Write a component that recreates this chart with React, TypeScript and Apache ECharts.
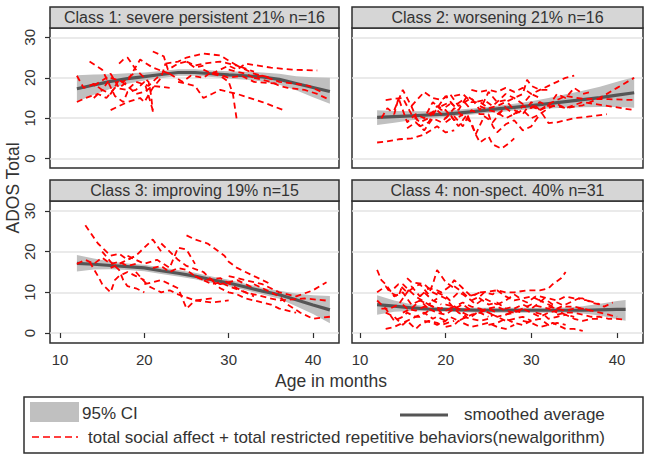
import React, { useEffect, useRef } from "react";
import * as echarts from "echarts";

// ---------- titles ----------
const panelTitles = [
  "Class 1: severe persistent 21% n=16",
  "Class 2: worsening 21% n=16",
  "Class 3: improving 19% n=15",
  "Class 4: non-spect. 40% n=31",
];
const yTicks = [0, 10, 20, 30];
const xTicks = [10, 20, 30, 40];

// ---------- smoothed average + 95% CI ----------
const ages1 = [12, 14, 16, 18, 20, 22, 24, 26, 28, 30, 32, 34, 36, 38, 40, 42];
const smooth1 = [17.3, 18.2, 19.1, 19.8, 20.3, 20.8, 21.3, 21.3, 21.0, 20.7, 20.5, 20.2, 19.6, 18.6, 17.6, 16.6];
const lower1 = [14.1, 15.8, 17.3, 18.5, 19.3, 19.9, 20.5, 20.5, 20.2, 19.8, 19.5, 19.1, 18.3, 16.9, 15.2, 13.6];
const upper1 = [20.6, 20.8, 20.9, 21.1, 21.3, 21.7, 22.1, 22.1, 21.8, 21.6, 21.5, 21.3, 21.0, 20.4, 20.1, 20.0];

const ages2 = [12, 14, 16, 18, 20, 22, 24, 26, 28, 30, 32, 34, 36, 38, 40, 42];
const smooth2 = [10.2, 10.4, 10.6, 10.8, 11.0, 11.4, 11.8, 12.3, 12.7, 13.1, 13.6, 14.1, 14.6, 15.1, 15.7, 16.3];
const lower2 = [8.3, 8.9, 9.5, 9.9, 10.3, 10.7, 11.1, 11.5, 11.9, 12.2, 12.4, 12.6, 12.7, 12.8, 12.8, 12.6];
const upper2 = [12.0, 11.8, 11.7, 11.7, 11.8, 12.2, 12.6, 13.1, 13.6, 14.2, 15.0, 15.9, 16.8, 17.8, 19.0, 20.2];

const ages3 = [12, 14, 16, 18, 20, 22, 24, 26, 28, 30, 32, 34, 36, 38, 40, 42];
const smooth3 = [17.1, 16.9, 16.6, 16.3, 16.0, 15.3, 14.7, 14.0, 13.1, 12.3, 11.3, 10.3, 9.4, 8.2, 6.9, 5.7];
const lower3 = [15.1, 15.6, 15.7, 15.5, 15.2, 14.5, 13.9, 13.2, 12.3, 11.5, 10.5, 9.5, 8.4, 6.6, 4.7, 2.4];
const upper3 = [19.2, 18.3, 17.6, 17.1, 16.8, 16.1, 15.5, 14.8, 13.9, 13.1, 12.1, 11.1, 10.4, 9.7, 9.3, 9.1];

const ages4 = [12, 14, 16, 18, 20, 22, 24, 26, 28, 30, 32, 34, 36, 38, 40, 41];
const smooth4 = [7.0, 6.6, 6.2, 5.9, 5.8, 5.7, 5.6, 5.6, 5.6, 5.6, 5.6, 5.6, 5.6, 5.7, 5.8, 5.8];
const lower4 = [4.5, 5.2, 5.4, 5.3, 5.2, 5.1, 5.0, 5.0, 5.0, 5.0, 5.0, 5.0, 4.8, 4.3, 3.4, 3.0];
const upper4 = [9.3, 8.0, 7.1, 6.5, 6.3, 6.2, 6.2, 6.2, 6.2, 6.2, 6.2, 6.3, 6.6, 7.2, 7.9, 8.1];

// ---------- individual trajectories [age, score] ----------
const class1Subjects = [
  [[12, 20.5], [12.8, 17.5], [13.5, 18], [14, 18.5], [15, 17], [16, 20], [17.5, 19], [19, 21.5]],
  [[12, 14], [13, 15], [14.5, 16], [15.5, 15], [16.5, 17.5], [18, 17], [19, 19], [20.5, 18], [22, 21]],
  [[14, 18], [15.5, 20], [16, 21], [17, 17.5], [18, 19], [18.5, 21], [19.5, 24.5], [21, 22.5], [23, 21]],
  [[13.5, 24], [15, 22], [16.5, 15.5], [17.5, 14], [18, 16.5], [19, 17], [20, 19], [21, 12]],
  [[16, 12], [17, 13], [18, 14], [19.5, 15], [20, 14], [21, 17.5], [22, 20], [22.5, 23.5]],
  [[17, 23.5], [17.5, 24.5], [18, 25], [19, 22], [20.5, 19], [20.8, 15.7], [21, 11.6]],
  [[21, 26.5], [22.3, 25.3], [22.8, 22], [24, 23.5], [25, 24], [26, 22.5], [27, 23]],
  [[22.5, 23.5], [24, 24], [25, 25], [26, 25.5], [27, 26], [29, 25.5], [31, 23], [33, 21.5]],
  [[23, 21], [24.5, 19], [25.5, 20.5], [27, 20], [28, 21.5], [30, 20], [31.5, 20.5], [33, 19], [36, 18.5]],
  [[24, 19], [25, 18.5], [26, 18], [27, 15], [28, 16], [29, 17], [31, 16], [34, 14], [36.5, 12]],
  [[25, 24], [26, 23], [27, 23.5], [29, 24], [30, 23.5], [31, 23], [33, 21], [35, 20]],
  [[27, 22], [28, 21], [29, 20.5], [30, 19], [30.5, 16], [31, 9]],
  [[28, 21], [30, 23], [31, 22], [32, 23.5], [33.5, 23], [35, 22.5], [37.5, 22], [40.5, 21.8]],
  [[30, 22], [31, 21.5], [32, 21], [33, 20], [34, 20.5], [36, 19], [38, 18.5], [39.5, 18], [41, 16.5]],
  [[33, 20], [34, 19.5], [35, 19], [36, 18], [37, 17.5], [39, 17], [40.5, 16], [42, 14.5]],
  [[14, 15], [15, 17], [16, 16], [17, 19.5], [18, 18], [19, 16], [20, 16.5], [21, 18], [23, 17.5]],
];

const class2Subjects = [
  [[12, 4], [13, 4.2], [14.5, 4.8], [16, 5], [17.5, 6], [19, 8], [20, 6.5], [21, 7]],
  [[12.5, 10], [13.2, 12.5], [14, 11], [14.5, 15], [15.5, 9], [16.5, 11], [17.5, 10], [18.5, 14], [19.5, 12], [20.5, 13.5]],
  [[13, 14.5], [14, 14.8], [15, 15], [16, 11], [17, 9], [18, 10], [19, 13], [20, 12], [21, 9.5], [22, 11]],
  [[14, 12], [15, 17], [16, 13], [17, 8], [18, 9], [19, 12.5], [20, 15.5], [21, 13], [22, 14.5], [23, 12]],
  [[15.5, 7.5], [16.5, 9], [17.5, 7], [18.5, 10], [19.5, 9], [20.5, 11], [21.5, 8], [22.5, 11], [23.5, 6], [24.5, 10.5], [25.5, 9], [27, 13]],
  [[16, 13], [17.5, 16.5], [18.5, 15], [19.5, 14.5], [20.5, 16], [21.5, 13], [23, 15], [24, 12], [25, 16.5], [26, 14], [27, 14.5], [28, 12]],
  [[18, 11], [19, 12], [20, 10], [21, 12.5], [22, 10.5], [23, 9], [23.5, 6], [24, 4], [25, 5.5], [25.5, 3.5], [26.5, 2.5], [27.5, 4], [28, 5]],
  [[19.5, 13], [20.5, 14], [21.5, 12], [22.5, 15.5], [23.5, 14], [24.5, 14.5], [25.5, 13], [27, 16], [28, 15], [29, 13.5], [30, 16], [31, 15]],
  [[20, 9], [21, 10.5], [22, 8], [23, 12], [24, 11], [25, 11], [25.5, 8], [26, 6.5], [27, 8.5], [28, 9.5], [29, 7], [30, 8], [31, 11]],
  [[21, 15.5], [22, 16], [23, 14], [24, 14], [25, 12.5], [26, 13], [27, 14], [28, 15], [29, 16], [29.5, 19.5], [30, 18], [31, 17], [32, 17]],
  [[23, 17], [24, 16.5], [25, 17], [26, 16.5], [27, 17.5], [28, 16.5], [29, 17.5], [30, 16], [31, 17], [32, 18], [33, 19], [34, 20], [35, 20.5]],
  [[24, 13], [25, 12], [26, 11.5], [27, 10], [28, 11], [29, 12], [30, 10], [31, 11], [32, 12.5], [33, 13.5], [34, 12.5], [36, 14], [39, 13], [42, 12]],
  [[26, 11], [27, 12.5], [28, 11], [29, 13], [30, 12.5], [31, 14], [32, 13], [33, 16], [34, 15], [35, 17.5], [36, 16], [37, 16.5]],
  [[28, 12], [29, 11], [30, 14], [31, 12], [32, 8.8], [33, 9], [35, 10], [37, 10.5], [38.8, 11]],
  [[30, 13], [31, 12], [32, 13.5], [33, 14.5], [34, 15.5], [36, 14.8], [39, 14.7], [42, 14.5]],
  [[31, 12], [32, 13], [33, 13], [34, 12.5], [36, 13.2], [38, 15], [40, 17.5], [42, 20]],
];

const class3Subjects = [
  [[13, 26.5], [14, 23.5], [14.5, 22], [15.5, 20], [16, 19], [17, 19.5], [18, 18], [19, 19]],
  [[12, 17], [13, 18], [14, 17], [15, 18.5], [16, 17], [17, 17.5], [18, 16.5], [19, 17]],
  [[13.5, 17.5], [14.5, 14], [15, 12], [16, 10], [16.5, 13], [17, 14], [18, 15], [19, 14], [20, 13]],
  [[15, 20], [16, 17.5], [17, 15.5], [17.5, 13], [18, 11.5], [19, 11], [20, 10]],
  [[16, 16], [17.5, 17.5], [18, 18], [19, 19], [20, 21], [21, 23], [22, 20]],
  [[18, 19], [19, 18], [20, 17], [21.5, 18], [23, 16], [24, 21], [25, 20.5], [26, 17]],
  [[19, 15], [20.5, 11.5], [21, 11], [22, 10], [23, 10.5], [24, 9.5], [26, 8], [28, 8.5]],
  [[20, 12], [21, 12.5], [22, 13], [23, 12], [24, 11], [25, 6], [26, 8], [28, 7.5], [30, 8]],
  [[21, 16], [22, 16.5], [23, 15], [24, 16], [25, 15.5], [26, 14], [27, 13], [29, 13.5], [31, 11], [33, 9]],
  [[22, 22], [23.5, 19], [24, 18], [25, 16.5], [27, 15], [28, 13], [29, 12], [31, 13], [33, 11]],
  [[25, 24], [26, 23], [27.5, 22], [29.5, 19], [30, 17.5], [31, 16], [33, 14], [34, 13], [35, 12]],
  [[26, 14], [28, 12], [29, 12.5], [30, 11.5], [32, 10], [34, 9], [36, 8], [39, 8.5], [41.5, 8]],
  [[28, 13], [29, 11], [30, 10], [31, 9.5], [32, 8.5], [34, 7.5], [35, 7], [36, 6], [38, 5]],
  [[30, 14], [31, 13.5], [32, 13], [34, 12], [35, 11], [36, 10], [38, 9], [40, 10.5], [41.6, 12.5]],
  [[33, 12], [34, 11], [35, 10], [36, 9], [37, 7], [38.5, 5], [40, 3.5], [42, 4]],
];

const class4Subjects = [
  [[12, 15.5], [12.5, 13], [13, 12], [14, 9], [15, 10], [16, 7], [17, 8], [18, 6]],
  [[12, 8], [12.5, 7], [13, 6], [14, 3], [15, 4], [15.5, 5], [16.5, 4], [17, 4], [18, 5.5]],
  [[12, 10], [13, 11.5], [13.5, 10], [14.5, 9], [15, 12], [16, 10], [16.5, 9], [18, 7], [19, 8.5]],
  [[13, 1], [14, 1.5], [14.5, 2], [15.5, 3], [16, 3.5], [17, 4.5], [17.5, 5], [18.5, 3.5], [19, 4], [20, 3]],
  [[12.5, 6], [13.5, 6], [14.5, 7], [15, 8.5], [16, 11.5], [17, 9], [17.5, 10], [18.5, 8], [19.5, 7]],
  [[13, 5], [14, 4], [15, 2], [15.5, 3], [16.5, 1], [17, 2], [18, 3], [19, 2.5], [19.5, 2], [21, 3]],
  [[14, 11], [14.5, 12], [15.5, 10], [16.5, 11.5], [17, 12], [18, 9.5], [18.5, 12], [19, 15.5], [19.5, 14], [20, 12.5], [21, 11]],
  [[15, 7], [15.5, 6], [16.5, 5.5], [17.5, 6.5], [18, 6], [19, 5], [20, 4.5], [21, 6], [21.5, 5], [22.5, 4]],
  [[15.5, 13.5], [16, 12.5], [17.5, 12], [18, 11], [18.5, 10], [19.5, 9], [20, 8.5], [21, 6], [22, 7], [23, 5.5]],
  [[17, 9], [17.5, 10], [18, 11], [19, 10.5], [19.5, 10], [20.5, 11.5], [21, 13], [22, 11], [23, 9], [24, 10]],
  [[17.5, 3], [18.5, 2.5], [19, 2], [20, 3], [20.5, 4], [21.5, 3], [22, 3.5], [23, 4.5], [24, 5], [25, 4]],
  [[18, 7], [19, 6], [19.5, 5], [20.5, 6], [21, 6.5], [22, 5], [23, 4], [24, 5.5], [25, 6], [26, 5]],
  [[19, 10], [20, 9], [20.5, 8], [21.5, 10], [22, 9.5], [23, 8], [23.5, 7], [24.5, 8.5], [25, 8], [26, 7]],
  [[20, 1.5], [21, 2], [21.5, 3], [22.5, 2], [23, 1.5], [24, 2], [25, 2.5], [26, 1.5], [27, 1], [28, 2]],
  [[20.5, 6], [21.5, 7], [22, 7.5], [23, 6.5], [24, 6], [25, 5], [26, 4], [27, 4.5], [28, 5.5], [29, 5]],
  [[21, 11.5], [22, 10], [22.5, 9], [23.5, 9.5], [24, 8.5], [25, 7], [26, 7.5], [27, 6], [28, 6.5]],
  [[22, 4], [23, 3.5], [24, 3], [25, 3.5], [25.5, 4.5], [26.5, 3.5], [27, 3], [28, 3.5], [29, 4], [30, 3]],
  [[23, 8], [24, 9], [24.5, 10], [25.5, 9.5], [26, 10.5], [27, 9], [28, 8], [29, 8.5], [30, 9], [31, 8]],
  [[24, 5], [25, 6], [26, 6.5], [27, 5.5], [28, 5], [29, 6], [30, 7], [31, 6.5], [32, 6], [33, 5]],
  [[25, 2], [26, 2.5], [27, 3.5], [28, 2.5], [29, 2], [30, 3], [31, 3.5], [32, 2], [33, 2.5], [34, 2]],
  [[26, 7], [27, 8], [28, 9.5], [29, 8], [29.5, 7.5], [30.5, 9], [31, 8], [32, 7], [33, 6], [34, 7]],
  [[27, 4.5], [28, 5], [29, 6], [30, 5], [31, 4], [32, 5], [33, 5.5], [34, 4.5], [35, 4]],
  [[24, 10], [25, 10.2], [26, 10.5], [27, 10], [28, 10], [29.5, 10.5], [31, 10.5], [32, 11], [32.5, 12], [33.5, 13.5], [34, 15]],
  [[29, 3], [30, 2.5], [31, 1.5], [32, 2], [32.5, 2.5], [33.5, 1.5], [34, 1], [35, 1], [36, 0.5]],
  [[28, 6], [29, 7], [30, 6], [31, 7.5], [31.5, 8.5], [32.5, 7], [33, 7.5], [34, 6.5], [35, 6.5], [36, 6], [37, 5.5]],
  [[30.5, 5], [31.5, 4.5], [32, 3.5], [33, 4], [34, 4.5], [35, 3.5], [36, 3], [37, 3.5], [38, 3.5]],
  [[31, 9], [32, 8.5], [33, 8], [34, 9], [35, 8.5], [36, 8.5], [36.5, 8], [37.5, 7.5], [38, 7]],
  [[32, 6.5], [33, 6], [34, 5.5], [35, 6], [36, 6], [37, 5.5], [38, 5], [39, 4.5], [40, 4]],
  [[33, 4.5], [34, 5], [35, 5], [36, 4.5], [37, 4], [38, 4], [39, 3.5], [40, 3.5], [40.8, 3.3]],
  [[34, 7], [35, 8], [35.5, 8.5], [36.5, 8], [37, 7.5], [38, 7], [38.5, 6.5], [39, 7], [39.5, 7.5]],
  [[15, 5], [16, 6], [17, 8], [18, 7], [18.5, 6.5], [19.5, 6], [20, 7], [21, 6.5], [22, 5.5], [23, 6]],
];

const legendLabels = [
  "95% CI",
  "smoothed average",
  "total social affect + total restricted repetitive behaviors(newalgorithm)",
];

// ---------- layout ----------
const FONT = "'Liberation Sans', Arial, sans-serif";
const TXT = "#333333";
const BAND = "#c0c0c0";
const panels = [
  { left: 50, top: 28, width: 289, height: 140, xMin: 8.81, xMax: 43.08, yMin: -2.3, yMax: 32.3, showY: true, showX: false },
  { left: 352, top: 28, width: 291, height: 140, xMin: 9.07, xMax: 43.03, yMin: -2.3, yMax: 32.3, showY: false, showX: false },
  { left: 50, top: 201, width: 289, height: 142, xMin: 8.81, xMax: 43.08, yMin: -2.45, yMax: 32.45, showY: true, showX: true },
  { left: 352, top: 201, width: 291, height: 142, xMin: 9.07, xMax: 43.03, yMin: -2.45, yMax: 32.45, showY: false, showX: true },
];
const panelData = [
  { ages: ages1, smooth: smooth1, lower: lower1, upper: upper1, subjects: class1Subjects },
  { ages: ages2, smooth: smooth2, lower: lower2, upper: upper2, subjects: class2Subjects },
  { ages: ages3, smooth: smooth3, lower: lower3, upper: upper3, subjects: class3Subjects },
  { ages: ages4, smooth: smooth4, lower: lower4, upper: upper4, subjects: class4Subjects },
];

function buildOption() {
  const grid: any[] = [];
  const xAxis: any[] = [];
  const yAxis: any[] = [];
  const series: any[] = [];
  const graphic: any[] = [];

  panels.forEach((p, i) => {
    grid.push({
      left: p.left, top: p.top, width: p.width, height: p.height,
      show: true, borderColor: "#2e2e2e", borderWidth: 1.5, backgroundColor: "#fff",
    });
    xAxis.push({
      type: "value", gridIndex: i, min: p.xMin, max: p.xMax, splitNumber: 3,
      axisLine: { show: false },
      axisTick: { show: p.showX, length: 5, customValues: xTicks, lineStyle: { color: "#2e2e2e", width: 1.2 } },
      axisLabel: { show: p.showX, customValues: xTicks, margin: 9, fontSize: 15, color: TXT, fontFamily: FONT },
      splitLine: { show: false },
    });
    yAxis.push({
      type: "value", gridIndex: i, min: p.yMin, max: p.yMax, splitNumber: 3,
      axisLine: { show: false },
      axisTick: { show: p.showY, length: 5, customValues: yTicks, lineStyle: { color: "#2e2e2e", width: 1.2 } },
      axisLabel: { show: p.showY, customValues: yTicks, rotate: 90, margin: 13, fontSize: 15, color: TXT, fontFamily: FONT },
      splitLine: { show: true, lineStyle: { color: "#e3e3e3", width: 1.5 } },
    });

    const d = panelData[i];
    // 95% CI band as one polygon through the axis scales
    series.push({
      type: "custom", xAxisIndex: i, yAxisIndex: i, silent: true, z: 1,
      data: d.ages.map((a, k) => [a, d.lower[k], d.upper[k]]),
      encode: { x: 0, y: [1, 2] },
      renderItem: (params: any, api: any) => {
        if (params.dataIndex !== 0) return null;
        const pts: number[][] = [];
        for (let k = 0; k < d.ages.length; k++) pts.push(api.coord([d.ages[k], d.upper[k]]));
        for (let k = d.ages.length - 1; k >= 0; k--) pts.push(api.coord([d.ages[k], d.lower[k]]));
        return { type: "polygon", shape: { points: pts }, style: { fill: BAND } };
      },
    });
    series.push({
      type: "line", xAxisIndex: i, yAxisIndex: i, symbol: "none", silent: true, z: 2,
      data: d.ages.map((a, k) => [a, d.smooth[k]]),
      lineStyle: { color: "#555555", width: 3.2 },
    });
    d.subjects.forEach((sub) => {
      series.push({
        type: "line", xAxisIndex: i, yAxisIndex: i, symbol: "none", silent: true, z: 3,
        data: sub,
        lineStyle: { color: "#ff0000", width: 1.8, type: [6, 4] },
      });
    });

    // strip header
    graphic.push({
      type: "rect", shape: { x: p.left, y: p.top - 21, width: p.width, height: 21 },
      style: { fill: "#d6d6d6", stroke: "#2e2e2e", lineWidth: 1.5 }, z: 10,
    });
    graphic.push({
      type: "text", x: p.left + p.width / 2, y: p.top - 10.5, z: 11,
      style: { text: panelTitles[i], fill: TXT, font: `16px ${FONT}`, align: "center", verticalAlign: "middle" },
    });
  });

  // axis titles
  graphic.push({
    type: "text", x: 13, y: 188, rotation: Math.PI / 2, z: 11,
    style: { text: "ADOS Total", fill: TXT, font: `17.5px ${FONT}`, align: "center", verticalAlign: "middle" },
  });
  graphic.push({
    type: "text", x: 331, y: 381, z: 11,
    style: { text: "Age in months", fill: TXT, font: `17.5px ${FONT}`, align: "center", verticalAlign: "middle" },
  });

  // legend box
  graphic.push({
    type: "rect", shape: { x: 24, y: 397, width: 619, height: 56 },
    style: { fill: "#fff", stroke: "#2e2e2e", lineWidth: 1.5 }, z: 10,
  });
  graphic.push({
    type: "rect", shape: { x: 30, y: 402, width: 49, height: 20 },
    style: { fill: BAND }, z: 11,
  });
  graphic.push({
    type: "text", x: 82, y: 413, z: 11,
    style: { text: legendLabels[0], fill: TXT, font: `17px ${FONT}`, align: "left", verticalAlign: "middle" },
  });
  graphic.push({
    type: "line", shape: { x1: 400, y1: 415, x2: 448, y2: 415 },
    style: { stroke: "#555555", lineWidth: 3.2 }, z: 11,
  });
  graphic.push({
    type: "text", x: 464, y: 414, z: 11,
    style: { text: legendLabels[1], fill: TXT, font: `17px ${FONT}`, align: "left", verticalAlign: "middle" },
  });
  graphic.push({
    type: "line", shape: { x1: 32, y1: 437, x2: 78, y2: 437 },
    style: { stroke: "#ff0000", lineWidth: 1.6, lineDash: [7, 4] }, z: 11,
  });
  graphic.push({
    type: "text", x: 88, y: 437, z: 11,
    style: { text: legendLabels[2], fill: TXT, font: `17px ${FONT}`, align: "left", verticalAlign: "middle" },
  });

  return {
    animation: false,
    backgroundColor: "#ffffff",
    grid, xAxis, yAxis, series, graphic,
  };
}

export default function App() {
  const ref = useRef<HTMLDivElement>(null);
  useEffect(() => {
    if (!ref.current) return;
    const chart = echarts.init(ref.current, undefined, { renderer: "svg" });
    chart.setOption(buildOption() as any);
    return () => chart.dispose();
  }, []);
  return (
    <div
      ref={ref}
      style={{ position: "fixed", left: 0, top: 0, width: 649, height: 459, background: "#fff" }}
    />
  );
}
